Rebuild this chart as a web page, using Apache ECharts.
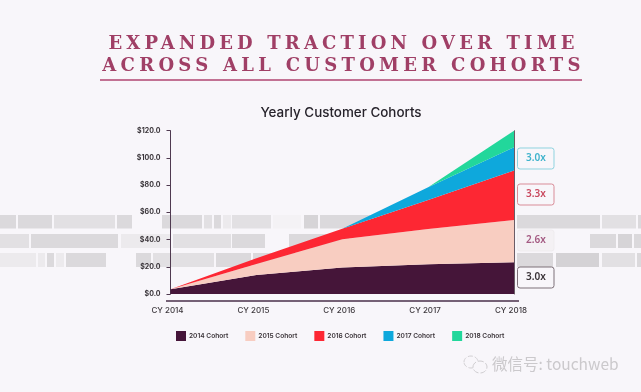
<!DOCTYPE html>
<html>
<head>
<meta charset="utf-8">
<style>
html,body{margin:0;padding:0;background:#f8f6fa;width:641px;height:392px;overflow:hidden}
#main{position:absolute;left:0;top:0;width:641px;height:392px}
.h{position:absolute;left:23px;width:641px;text-align:center;white-space:nowrap;font-family:"DejaVu Serif",serif;font-weight:700;color:#a03f66;font-size:18px;line-height:22px}
</style>
<script src="https://cdn.jsdelivr.net/npm/echarts@6/dist/echarts.min.js"></script>
</head>
<body>
<div id="main"></div>
<div class="h" style="top:32px;letter-spacing:4.15px">EXPANDED TRACTION OVER TIME</div>
<div class="h" style="top:54px;letter-spacing:4.27px">ACROSS ALL CUSTOMER COHORTS</div>
<script>
var categories = ['CY 2014', 'CY 2015', 'CY 2016', 'CY 2017', 'CY 2018'];
var seriesNames = ['2014 Cohort', '2015 Cohort', '2016 Cohort', '2017 Cohort', '2018 Cohort'];
var cohort2014 = [3.4, 14, 19.4, 21.8, 23.3];
var cohort2015 = [0, 8, 20.8, 26, 31.1];
var cohort2016 = [0, 4.2, 7.8, 21.2, 36.3];
var cohort2017 = [0, 0, 0, 9.4, 17.1];
var cohort2018 = [0, 0, 0, 0, 12.2];
var multiples = ['3.0x', '3.3x', '2.6x', '3.0x'];
var colors = ['#451539', '#f8cdc1', '#fd2733', '#0ea8dc', '#22d79b'];
var allValues = [cohort2014, cohort2015, cohort2016, cohort2017, cohort2018];

// blurred strip decoration behind the chart: [x, width, shade]
var D = '#dbd9dc', M = '#e2e0e3', L = '#eceaed';
var stripRows = [
  {y: 215, h: 13.5, cells: [[0,16,D],[18,34,D],[54,61,M],[117,15,D],[162,40,D],[204,8,M],[214,7,D],[223,8,L],[232,39,M],[273,28,'#f4f2f5'],[304,14,'#d6d4d7'],[320,50,D],[517,83,D],[602,34,M],[638,3,D]]},
  {y: 234, h: 14, cells: [[0,29,M],[31,87,D],[121,49,L],[173,58,M],[232,33,D],[289,60,D],[590,26,D],[618,14,'#d6d4d7'],[634,7,D]]},
  {y: 253, h: 14, cells: [[0,36,L],[38,7,L],[47,7,D],[56,8,L],[66,40,D],[136,15,D],[153,61,M],[216,35,D],[253,50,D],[517,36,D],[556,43,'#d4d2d5'],[602,33,M],[637,4,D]]}
];
var badges = [
  {y: 148, stroke: '#8fd3df', fill: '#f8f6fa', color: '#3fb3cc'},
  {y: 184, stroke: '#d98c98', fill: '#f8f6fa', color: '#c9495f'},
  {y: 230, stroke: '#efecef', fill: '#f4f1f4', color: '#a45a82'},
  {y: 267, stroke: '#7d7078', fill: '#f8f6fa', color: '#3a3338'}
];

var graphic = [];
stripRows.forEach(function (r) {
  r.cells.forEach(function (c) {
    graphic.push({type: 'rect', z: 0, silent: true, shape: {x: c[0], y: r.y, width: c[1], height: r.h}, style: {fill: c[2]}});
  });
});
// heading underline
graphic.push({type: 'line', z: 5, silent: true, shape: {x1: 100, y1: 80, x2: 582, y2: 80}, style: {stroke: '#b04470', lineWidth: 1.5}});
// long x baseline
graphic.push({type: 'line', z: 5, silent: true, shape: {x1: 166, y1: 301, x2: 519, y2: 301}, style: {stroke: '#4a2f4a', lineWidth: 1.3}});
badges.forEach(function (b, i) {
  graphic.push({type: 'rect', z: 5, silent: true, shape: {x: 517.5, y: b.y, width: 36.5, height: 21, r: 2.5}, style: {fill: b.fill, stroke: b.stroke, lineWidth: 1}});
  graphic.push({type: 'text', z: 6, silent: true, x: 536, y: b.y + 10.5, style: {text: multiples[i], font: '600 10px "Noto Sans"', fill: b.color, align: 'center', verticalAlign: 'middle'}});
});
// chart title
graphic.push({type: 'text', z: 6, silent: true, x: 341, y: 112.5, style: {text: 'Yearly Customer Cohorts', font: '500 13.4px Inter', fill: '#26222a', align: 'center', verticalAlign: 'middle'}});
// watermark
graphic.push({type: 'ellipse', z: 6, silent: true, shape: {cx: 471, cy: 362, rx: 7, ry: 6}, style: {fill: 'none', stroke: '#d2d0d3', lineWidth: 1, lineDash: [5, 2]}});
graphic.push({type: 'ellipse', z: 6, silent: true, shape: {cx: 480, cy: 367, rx: 7, ry: 6}, style: {fill: '#f8f6fa', stroke: '#cfcdd0', lineWidth: 1, lineDash: [6, 2]}});
graphic.push({type: 'text', z: 6, silent: true, x: 492, y: 364, style: {text: '微信号: touchweb', font: '15.5px "Noto Sans CJK SC"', fill: '#cbc9cc', align: 'left', verticalAlign: 'middle'}});

var chart = echarts.init(document.getElementById('main'), null, {renderer: 'canvas', width: 641, height: 392});
chart.setOption({
  animation: false,
  backgroundColor: '#f8f6fa',
  color: colors,
  graphic: graphic,
  grid: {left: 170.5, right: 127, top: 130.7, bottom: 98, containLabel: false},
  legend: {
    left: 176, top: 331, padding: 0, icon: 'rect', itemWidth: 10, itemHeight: 10, itemGap: 17,
    textStyle: {fontFamily: 'Inter', fontSize: 6.6, fontWeight: 600, color: '#3a3338', padding: [0, 0, 0, -2]},
    data: seriesNames
  },
  xAxis: {
    type: 'category', boundaryGap: false, data: categories,
    axisLine: {show: false}, axisTick: {show: false},
    axisLabel: {margin: 13, fontFamily: 'Inter', fontSize: 8, fontWeight: 500, color: '#3d383d', interval: 0, padding: [0, 6, 0, 0], hideOverlap: false}
  },
  yAxis: [
    {
      type: 'value', min: 0, max: 120, interval: 20,
      splitLine: {show: false},
      axisLine: {show: true, lineStyle: {color: '#4f3a50', width: 1}},
      axisTick: {show: true, length: 4, lineStyle: {color: '#4f3a50', width: 1}},
      axisLabel: {margin: 10, fontFamily: 'Inter', fontSize: 7, fontWeight: 700, color: '#3a353a', formatter: function (v) { return '$' + v.toFixed(1); }}
    },
    {
      type: 'value', min: 0, max: 120, interval: 20, position: 'right',
      splitLine: {show: false}, axisTick: {show: false}, axisLabel: {show: false},
      axisLine: {show: true, lineStyle: {color: '#6b5c66', width: 1}}
    }
  ],
  series: seriesNames.map(function (n, i) {
    return {
      name: n, type: 'line', stack: 'total', data: allValues[i], showSymbol: false, symbol: 'none',
      lineStyle: {width: 0}, areaStyle: {color: colors[i], opacity: 1}, itemStyle: {color: colors[i]}, z: 3 + i
    };
  })
});
</script>
</body>
</html>
